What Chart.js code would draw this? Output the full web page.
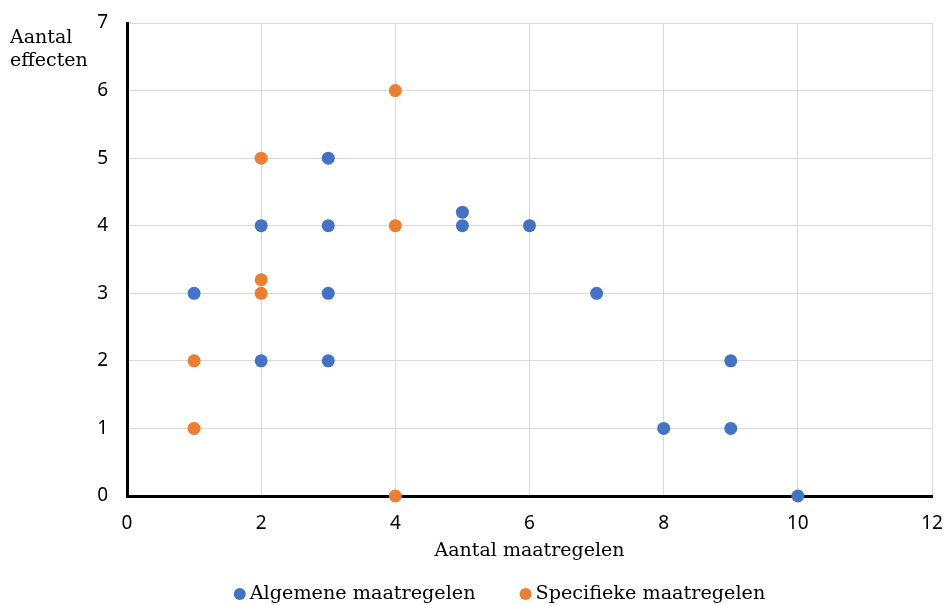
<!DOCTYPE html>
<html>
<head>
<meta charset="utf-8">
<script src="https://cdn.jsdelivr.net/npm/chart.js@4/dist/chart.umd.min.js"></script>
<style>
  html, body { margin: 0; padding: 0; background: #ffffff; }
  #wrap { width: 946px; height: 605px; }
</style>
</head>
<body>
<div id="wrap"><canvas id="c" width="946" height="605"></canvas></div>
<script>
// Aantal maatregelen (x) tegen aantal effecten (y)
const algemeneX = [1, 2, 2, 3, 3, 3, 3, 5, 5, 6, 7, 8, 9, 9, 10];
const algemeneY = [3, 4, 2, 5, 4, 3, 2, 4.2, 4, 4, 3, 1, 2, 1, 0];
const specifiekeX = [1, 1, 2, 2, 2, 4, 4, 4];
const specifiekeY = [2, 1, 5, 3.2, 3, 6, 4, 0];
const seriesNames = ['Algemene maatregelen', 'Specifieke maatregelen'];
const seriesColors = ['#4472C4', '#ED7D31'];
const xTicks = [0, 2, 4, 6, 8, 10, 12];
const yTicks = [0, 1, 2, 3, 4, 5, 6, 7];
const xTitle = 'Aantal maatregelen';
const yTitleLines = ['Aantal', 'effecten'];

const toPoints = (xs, ys) => xs.map((x, i) => ({ x, y: ys[i] }));

const serif = '"DejaVu Serif", "Liberation Serif", serif';
const sans = '"Noto Sans", "Open Sans", sans-serif';

// Y-axis caption sits horizontally in the top-left corner
const yCaption = {
  id: 'yCaption',
  afterDraw(chart) {
    const ctx = chart.ctx;
    ctx.save();
    ctx.font = '19px ' + serif;
    ctx.fillStyle = '#000000';
    ctx.textAlign = 'left';
    ctx.textBaseline = 'middle';
    yTitleLines.forEach((line, i) => ctx.fillText(line, 10, 38 + i * 23));
    ctx.restore();
  }
};

// Compact legend row under the x-axis title: dot, short gap, label
const dotLegend = {
  id: 'dotLegend',
  afterDraw(chart) {
    const ctx = chart.ctx;
    const sets = chart.data.datasets;
    const r = 6, textGap = 10, itemGap = 44;
    ctx.save();
    ctx.font = '19.2px ' + serif;
    ctx.textBaseline = 'middle';
    ctx.textAlign = 'left';
    const widths = sets.map(ds => ctx.measureText(ds.label).width);
    const total = widths.reduce((a, w) => a + r + textGap + w, 0) + itemGap * (sets.length - 1);
    const area = chart.chartArea;
    let x = (area.left + area.right) / 2 - 30 - total / 2;
    const y = chart.height - 11;
    sets.forEach((ds, i) => {
      const cx = x + r;
      ctx.beginPath();
      ctx.arc(cx, y, r, 0, Math.PI * 2);
      ctx.fillStyle = ds.backgroundColor;
      ctx.fill();
      ctx.fillStyle = '#000000';
      ctx.fillText(ds.label, cx + textGap, y);
      x = cx + textGap + widths[i] + itemGap;
    });
    ctx.restore();
  }
};

new Chart(document.getElementById('c'), {
  type: 'scatter',
  data: {
    datasets: [
      {
        label: seriesNames[0],
        data: toPoints(algemeneX, algemeneY),
        backgroundColor: seriesColors[0],
        borderColor: seriesColors[0],
        pointRadius: 6.5,
        pointHoverRadius: 6.5,
        borderWidth: 0,
        clip: false
      },
      {
        label: seriesNames[1],
        data: toPoints(specifiekeX, specifiekeY),
        backgroundColor: seriesColors[1],
        borderColor: seriesColors[1],
        pointRadius: 6.5,
        pointHoverRadius: 6.5,
        borderWidth: 0,
        clip: false
      }
    ]
  },
  options: {
    responsive: false,
    animation: false,
    events: [],
    layout: { padding: { top: 23, right: 14, left: 0, bottom: 59 } },
    plugins: {
      tooltip: { enabled: false },
      legend: { display: false }
    },
    scales: {
      x: {
        type: 'linear',
        min: xTicks[0],
        max: xTicks[xTicks.length - 1],
        afterBuildTicks: (s) => { s.ticks = xTicks.map(v => ({ value: v })); },
        afterFit: (s) => { s.height = 50; s.paddingRight = 0; s.paddingLeft = 0; },
        grid: { color: '#d9d9d9', lineWidth: 1, drawTicks: false },
        border: { display: true, color: '#000000', width: 3 },
        ticks: { color: '#000000', padding: 16, font: { family: sans, size: 19 } },
        title: {
          display: true,
          text: xTitle,
          color: '#000000',
          font: { family: serif, size: 19, lineHeight: 1 },
          padding: { top: 0, bottom: -15 }
        }
      },
      y: {
        type: 'linear',
        min: yTicks[0],
        max: yTicks[yTicks.length - 1],
        afterBuildTicks: (s) => { s.ticks = yTicks.map(v => ({ value: v })); },
        afterFit: (s) => { s.width = 127; s.paddingTop = 0; s.paddingBottom = 0; },
        grid: { color: '#d9d9d9', lineWidth: 1, drawTicks: false },
        border: { display: true, color: '#000000', width: 3 },
        ticks: { color: '#000000', padding: 19, font: { family: sans, size: 19 } }
      }
    }
  },
  plugins: [yCaption, dotLegend]
});
</script>
</body>
</html>
